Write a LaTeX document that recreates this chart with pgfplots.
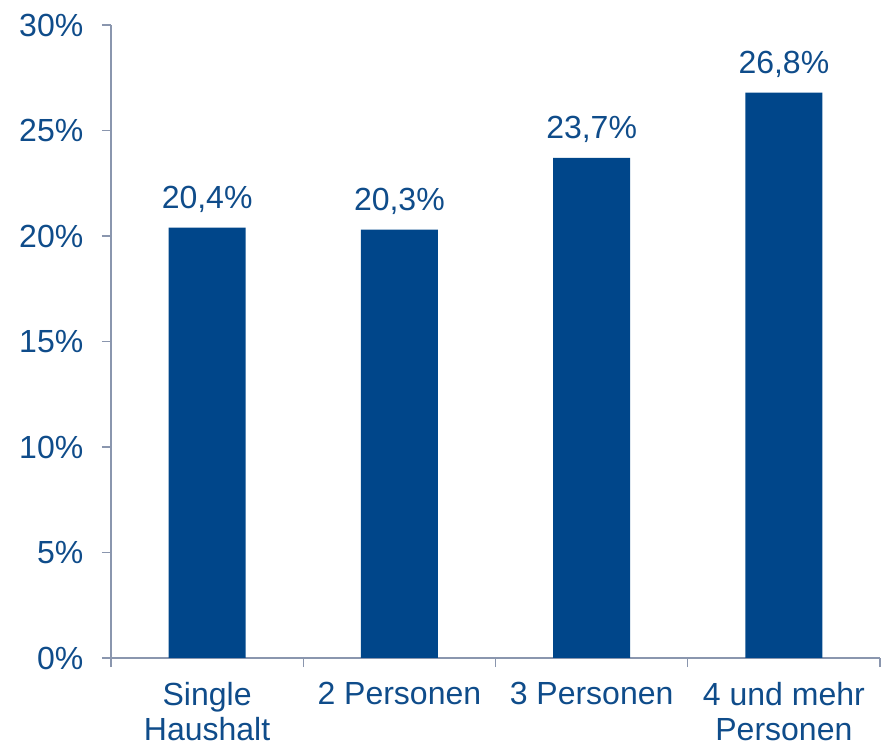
\documentclass[border=0pt]{standalone}
\usepackage{pgfplots}
\pgfplotsset{compat=1.18}
\usepackage{fontspec}
\setmainfont{Liberation Sans}
\definecolor{barblue}{HTML}{00468A}
\definecolor{txtblue}{HTML}{0F4C8A}
\definecolor{axgray}{HTML}{8A96AE}
\newcommand{\lblfont}{\fontsize{24}{26.5}\selectfont}
\begin{document}
\begin{tikzpicture}
\begin{axis}[
    scale only axis,
    width=576.75pt, height=474.75pt,
    xmin=-0.5, xmax=3.5,
    ymin=0, ymax=30,
    axis x line*=bottom, axis y line*=left,
    axis line style={draw=axgray, line width=1.1pt},
    tick align=outside,
    major tick length=6.75pt,
    font=\lblfont,
    /pgf/number format/assume math mode=true,
    ytick={0,5,...,30},
    ytick style={draw=axgray, line width=1.1pt},
    yticklabel={\pgfmathprintnumber{\tick}\%},
    yticklabel style={txtblue, font=\lblfont, xshift=-10.5pt},
    xtick={0,1,2,3},
    xtick style={draw=none},
    xticklabels={Single\\Haushalt, 2 Personen, 3 Personen, 4 und mehr\\Personen},
    xticklabel style={txtblue, font=\lblfont, align=center, yshift=-8pt},
    extra x ticks={-0.5,0.5,1.5,2.5,3.5},
    extra x tick labels={},
    extra x tick style={xtick style={draw=axgray, line width=1.1pt}},
    ybar, bar width=0.4,
    nodes near coords,
    point meta=explicit symbolic,
    nodes near coords style={txtblue, font=\lblfont, yshift=8pt},
]
\addplot[fill=barblue, draw=none] coordinates {
    (0,20.4) [20,4\%]
    (1,20.3) [20,3\%]
    (2,23.7) [23,7\%]
    (3,26.8) [26,8\%]
};
\end{axis}
\pgfresetboundingbox
\path (current axis.south west) ++(-83.25pt,-66pt) rectangle ++(662.25pt,559.5pt);
\end{tikzpicture}
\end{document}
